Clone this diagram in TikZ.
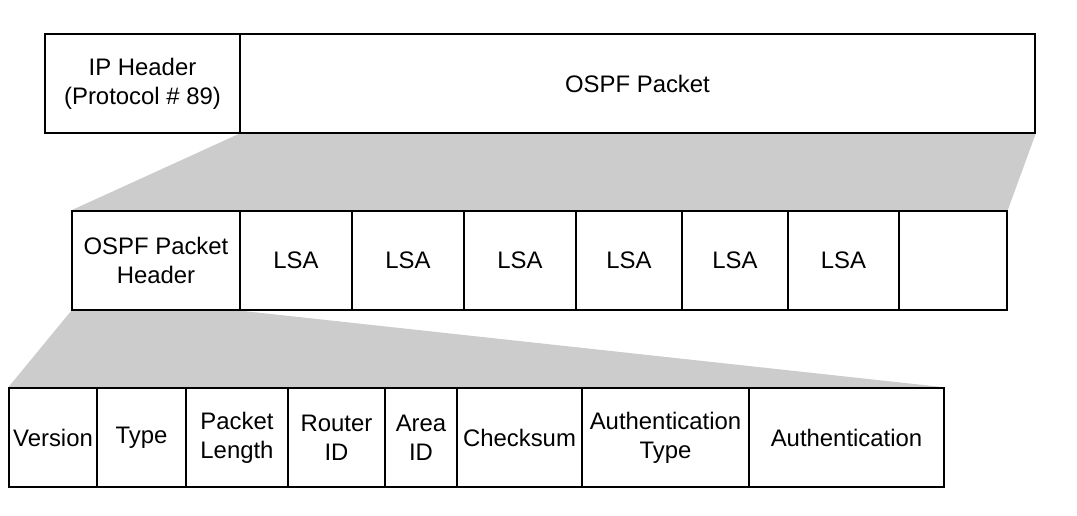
\documentclass[tikz,border=0pt]{standalone}
\usepackage{fontspec}
\setmainfont{Liberation Sans}
\usetikzlibrary{backgrounds}
\definecolor{Shade}{HTML}{CCCCCC}

\tikzset{
  cell/.style={draw,line width=0.8pt,inner sep=0pt,align=center,minimum height=1.98cm,
    font=\fontsize{13.6}{16.5}\selectfont},
}

\begin{document}
\begin{tikzpicture}[x=0.02cm,y=-0.02cm]
        \useasboundingbox (0,0) rectangle (1077,515);
        % IP datagram
        \node[cell,minimum width=195*0.02cm] (ip) at (142.5,83.5) {IP Header\\(Protocol \# 89)};
        \node[cell,minimum width=795*0.02cm] (ospf) at (637.5,83.5) {OSPF Packet};
        % OSPF packet
        \foreach \n/\cx/\w/\lab in {hdr/156/168/{OSPF Packet\\Header},l1/296/112/LSA,l2/408/112/LSA,
            l3/520/112/LSA,l4/629/106/LSA,l5/735/106/LSA,l6/843.5/111/LSA,l7/953/108/{}}{
          \node[cell,minimum width=\w*0.02cm] (\n) at (\cx,260.5) {\lab};
        }
        % OSPF header fields
        \foreach \n/\cx/\w/\lab in {ver/53/88/Version,typ/141.5/89/Type,len/237/102/{Packet\\Length},
            rid/336.5/97/{Router\\ID},aid/421/72/{Area\\ID},chk/519.5/125/Checksum,
            aut/665.5/167/{Authentication\\Type},auth/846.5/195/Authentication}{
          \node[cell,minimum width=\w*0.02cm] (\n) at (\cx,437.5) {\lab};
        }
        \begin{scope}[on background layer]
          \fill[Shade] (ospf.south west) -- (ospf.south east) -- (l7.north east) -- (hdr.north west) -- cycle;
          \fill[Shade] (hdr.south west) -- (hdr.south east) -- (auth.north east) -- (ver.north west) -- cycle;
        \end{scope}
      \end{tikzpicture}
\end{document}
